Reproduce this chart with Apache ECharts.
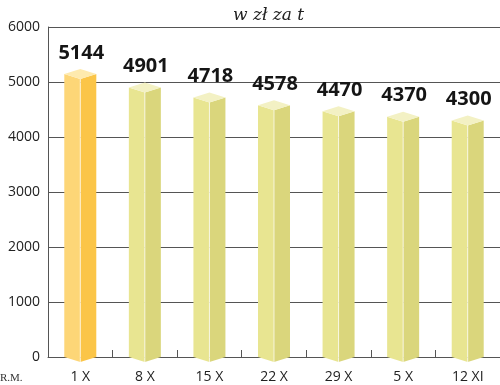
<!DOCTYPE html>
<html>
<head>
<meta charset="utf-8">
<script src="https://cdn.jsdelivr.net/npm/echarts@6/dist/echarts.min.js"></script>
<style>html,body{margin:0;padding:0;background:#fff}#c{width:500px;height:385px}</style>
</head>
<body>
<div id="c"></div>
<script>
var categories = ['1 X', '8 X', '15 X', '22 X', '29 X', '5 X', '12 XI'];
var values = [5144, 4901, 4718, 4578, 4470, 4370, 4300];
var yTicks = [0, 1000, 2000, 3000, 4000, 5000, 6000];
var titleText = 'w zł za t';
var creditText = 'R.M.';

var chart = echarts.init(document.getElementById('c'), null, {renderer: 'canvas'});

var palettes = [
  {left: '#FDD677', right: '#FBC548', top: '#FEEAAE'},
  {left: '#E8E591', right: '#DAD67C', top: '#F3F1C4'}
];

function renderBar(params, api) {
  var idx = api.value(0);
  var val = api.value(1);
  var p = api.coord([idx, val]);
  var b = api.coord([idx, 0]);
  var x = p[0], yv = p[1], y0 = b[1];
  var hw = 16, d = 5;
  var pal = idx === 0 ? palettes[0] : palettes[1];
  return {
    type: 'group',
    children: [
      {type: 'polygon', shape: {points: [[x - hw, yv], [x, yv + d], [x, y0 + d], [x - hw, y0]]}, style: {fill: pal.left}},
      {type: 'polygon', shape: {points: [[x, yv + d], [x + hw, yv], [x + hw, y0], [x, y0 + d]]}, style: {fill: pal.right}},
      {type: 'polygon', shape: {points: [[x - hw, yv], [x, yv - d], [x + hw, yv], [x, yv + d]]}, style: {fill: pal.top}},
      {type: 'line', shape: {x1: x, y1: yv + d, x2: x, y2: y0 + d}, style: {stroke: 'rgba(255,255,255,0.7)', lineWidth: 1}},
      {type: 'text', style: {text: String(values[idx]), x: x + 1, y: yv - 21, align: 'center', verticalAlign: 'middle',
        font: 'bold 20px "Open Sans", sans-serif', fill: '#151515'}}
    ]
  };
}

chart.setOption({
  animation: false,
  title: {
    text: titleText, left: 228, top: 2,
    textStyle: {fontFamily: '"DejaVu Serif", "Liberation Serif", serif', fontStyle: 'italic', fontWeight: 'normal', fontSize: 17, color: '#222'}
  },
  graphic: [{type: 'text', left: 0, top: 373, style: {text: creditText, font: '11px "Liberation Serif", serif', fill: '#333'}}],
  grid: {left: 48, right: 0, top: 27, bottom: 28, containLabel: false},
  xAxis: {
    type: 'category', data: categories,
    axisLine: {show: true, lineStyle: {color: '#555', width: 1}},
    axisTick: {show: true, inside: true, length: 7, alignWithLabel: false, lineStyle: {color: '#555'}},
    axisLabel: {margin: 13, fontSize: 14, color: '#222', fontFamily: '"Open Sans", sans-serif'}
  },
  yAxis: {
    type: 'value', min: 0, max: 6000, interval: 1000,
    axisLine: {show: true, lineStyle: {color: '#555', width: 1}},
    axisTick: {show: false},
    splitLine: {show: true, lineStyle: {color: '#555', width: 1}},
    axisLabel: {margin: 8, fontSize: 14, color: '#222', fontFamily: '"Open Sans", sans-serif',
      formatter: function (v) { return yTicks.indexOf(v) >= 0 ? String(v) : ''; }}
  },
  series: [{
    type: 'custom', clip: false, renderItem: renderBar,
    data: values.map(function (v, i) { return [i, v]; }),
    encode: {x: 0, y: 1}
  }]
});
</script>
</body>
</html>
